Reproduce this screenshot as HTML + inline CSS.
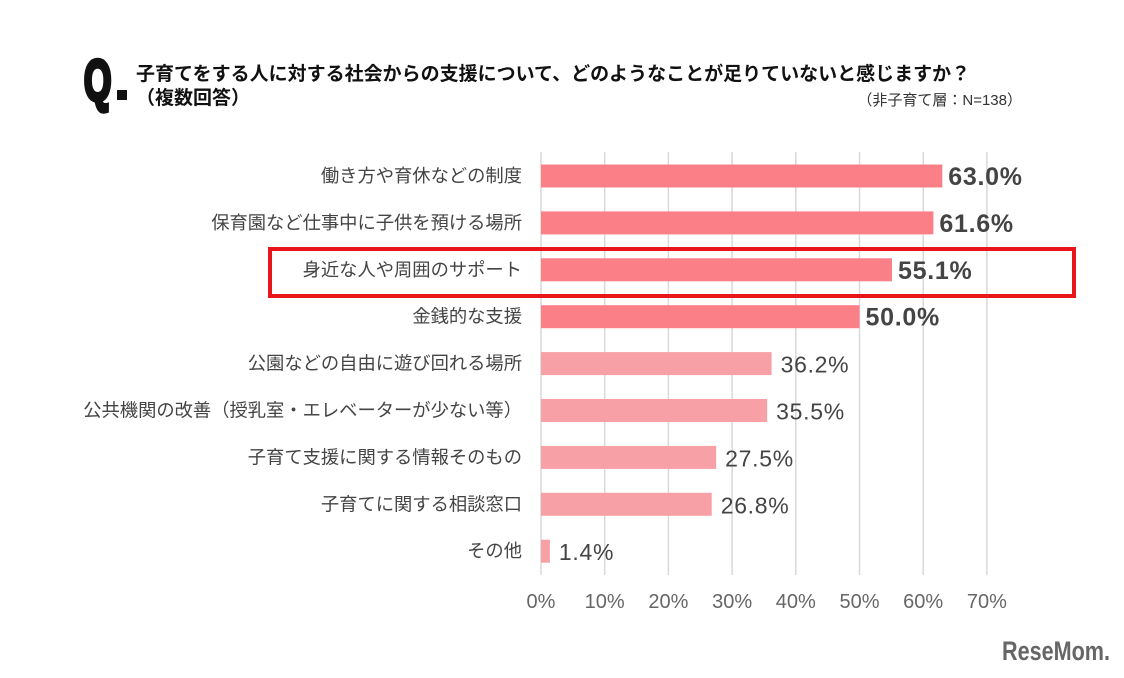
<!DOCTYPE html>
<html><head><meta charset="utf-8"><style>
body{margin:0;width:1124px;height:673px;background:#fff;overflow:hidden;font-family:"Liberation Sans","Noto Sans CJK JP",sans-serif;}
</style></head><body>
<svg width="1124" height="673" xmlns="http://www.w3.org/2000/svg">
<text x="0" y="0" font-family="Liberation Sans, sans-serif" font-weight="bold" font-size="44" transform="translate(84,100) scale(0.8,1.3)" fill="#111" stroke="#111" stroke-width="3.5">Q</text>
<rect x="117" y="90" width="10" height="10" fill="#111"/>
<text x="136" y="80" font-size="19" font-weight="bold" fill="#111" font-family="Liberation Sans, Noto Sans CJK JP, sans-serif">子育てをする人に対する社会からの支援について、どのようなことが足りていないと感じますか？</text>
<text x="136" y="104" font-size="19" font-weight="bold" fill="#111" font-family="Liberation Sans, Noto Sans CJK JP, sans-serif">（複数回答）</text>
<text x="1022" y="105" font-size="15" fill="#333" text-anchor="end" font-family="Liberation Sans, Noto Sans CJK JP, sans-serif">（非子育て層：N=138）</text>
<g id="grid"></g><g id="bars"></g>
<rect x="270" y="249" width="804" height="47" fill="none" stroke="#e8161b" stroke-width="4"/>
<text x="0" y="0" font-size="24" font-weight="bold" fill="#666" text-anchor="end" font-family="Liberation Sans, sans-serif" transform="translate(1110,660) scale(0.9,1.1)">ReseMom.</text>
</svg>
<script>
const categories=["働き方や育休などの制度","保育園など仕事中に子供を預ける場所","身近な人や周囲のサポート","金銭的な支援","公園などの自由に遊び回れる場所","公共機関の改善（授乳室・エレベーターが少ない等）","子育て支援に関する情報そのもの","子育てに関する相談窓口","その他"];
const values=[63.0,61.6,55.1,50.0,36.2,35.5,27.5,26.8,1.4];
const ticks=[0,10,20,30,40,50,60,70];
const NS="http://www.w3.org/2000/svg";
const x=v=>541+v*6.37;
const y=i=>176+i*46.9;
const g=document.getElementById('grid'),b=document.getElementById('bars');
function mk(tag,a,p){const e=document.createElementNS(NS,tag);for(const k in a)e.setAttribute(k,a[k]);p.appendChild(e);return e;}
ticks.forEach(t=>{
 const l=mk('line',{x1:x(t),x2:x(t),y1:152,y2:575,stroke:'#d9d9d9','stroke-width':1.5},g);
 
 
 const tx=mk('text',{x:x(t),y:608,'font-size':20,fill:'#666','text-anchor':'middle'},g);
 tx.textContent=t+'%';
 
 
});
values.forEach((v,i)=>{
 const top=i<4;
 const r=mk('rect',{x:541,y:y(i)-11.5,width:x(v)-541,height:23,fill:top?'#fb7f87':'#f7a0a5'},b);
 
 
 const c=mk('text',{x:522,y:y(i)+6,'font-size':18.3,fill:'#444','text-anchor':'end','font-family':'Liberation Sans, Noto Sans CJK JP, sans-serif'},b);
 c.textContent=categories[i];
 
 
 const t=mk('text',{x:x(v)+(top?6:9),y:y(i)+9,'font-size':top?25:23,'letter-spacing':0.7,'font-weight':top?'bold':'normal',fill:'#444'},b);
 t.textContent=v.toFixed(1)+'%';
 
 
});
</script>
</body></html>
